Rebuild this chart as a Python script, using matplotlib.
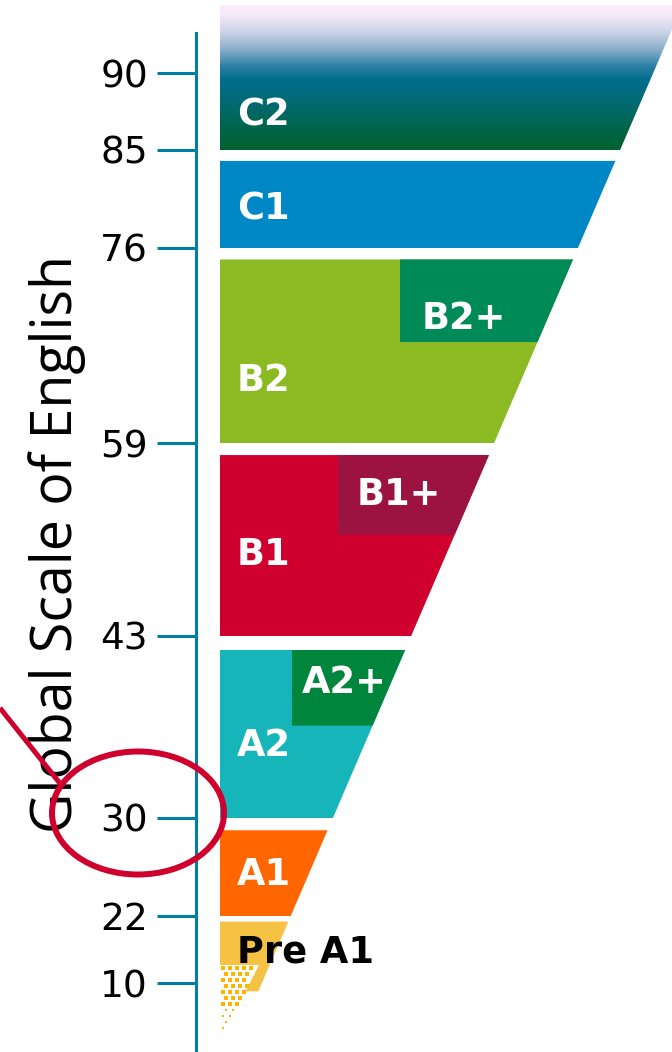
import numpy as np
import matplotlib
matplotlib.use("Agg")
import matplotlib.pyplot as plt
from matplotlib.patches import Polygon, Ellipse

# GSE values on the axis, and the pixel row where each tick sits in the picture
gse_ticks = [10, 22, 30, 43, 59, 76, 85, 90]
tick_rows = [983, 916, 818, 636, 443, 248, 150, 73]

# CEFR levels on the Global Scale of English
levels = ["C2", "C1", "B2", "B1", "A2", "A1", "Pre A1"]
level_lo = [85, 76, 59, 43, 30, 22, 8.5]
level_hi = [94.4, 84, 75, 58, 42, 29, 21]
level_colors = [None, "#0088c6", "#8cba23", "#d0002e", "#15b5ba", "#ff6600", "#f6c244"]
label_at = [86.6, 78.6, 63.5, 48.9, 34.4, 24.5, 13.6]

# "plus" sub-levels drawn in the top right of their band
plus_levels = ["B2+", "B1+", "A2+"]
plus_lo = [67.8, 51.4, 36.6]
plus_hi = [75, 58, 42]
plus_x0 = [180, 118, 72]
plus_colors = ["#008a57", "#9c1342", "#00853c"]
plus_label_at = [68.9, 53.9, 38.9]
plus_label_dx = [22, 19, 10]

W, H = 672, 1052
AX_LEFT, BAND_LEFT = 196, 220
AXIS_COLOR = "#007fa3"
RED = "#d0002e"


def interp_ext(x, xp, fp):
    # piecewise linear, carried on straight past both ends
    x = np.asarray(x, dtype=float)
    y = np.interp(x, xp, fp)
    s0 = (fp[1] - fp[0]) / (xp[1] - xp[0])
    s1 = (fp[-1] - fp[-2]) / (xp[-1] - xp[-2])
    y = np.where(x < xp[0], fp[0] + (x - xp[0]) * s0, y)
    y = np.where(x > xp[-1], fp[-1] + (x - xp[-1]) * s1, y)
    return y


def to_row(v):
    return interp_ext(v, gse_ticks, tick_rows)


def to_gse(row):
    return interp_ext(row, tick_rows[::-1], gse_ticks[::-1])


def edge_x(v):
    # right side of the funnel is a straight slanted line in the picture
    return float(673 - BAND_LEFT - 0.43 * (to_row(v) - 27))


fig = plt.figure(figsize=(W / 100, H / 100), dpi=100)
ax = fig.add_axes([AX_LEFT / W, 0, (W - AX_LEFT) / W, 1])
ax.set_yscale("function", functions=(lambda v: -to_row(v), lambda t: to_gse(-t)))


def band(x0, lo, hi, **kw):
    pts = [(x0, lo), (edge_x(lo), lo), (edge_x(hi), hi), (x0, hi)]
    p = Polygon(pts, closed=True, lw=0, **kw)
    ax.add_patch(p)
    return p


# main bands
for name, lo, hi, col in zip(levels, level_lo, level_hi, level_colors):
    if col is None:
        c2 = band(0, lo, hi, facecolor="none", zorder=1)
    else:
        band(0, lo, hi, facecolor=col, zorder=1)

# C2 gradient (pale pink at the top to dark green)
grad_rows = [5, 14, 32, 50, 66, 80, 105, 130, 148]
grad_cols = [(252, 236, 252), (246, 234, 250), (205, 212, 232), (135, 172, 200),
             (45, 128, 165), (0, 110, 142), (0, 105, 110), (0, 101, 72), (0, 98, 50)]
top_row, bot_row = float(to_row(level_hi[0])), float(to_row(level_lo[0]))
rows = np.arange(top_row, bot_row, 0.5)
img = np.stack([np.interp(rows, grad_rows, [c[i] for c in grad_cols]) for i in range(3)], axis=-1) / 255
im = ax.imshow(img[:, None, :], extent=(0, 1, 1 - bot_row / H, 1 - top_row / H),
               transform=ax.transAxes, aspect="auto", interpolation="bilinear", zorder=1)
im.set_clip_path(c2)

# plus boxes
for lo, hi, x0, col in zip(plus_lo, plus_hi, plus_x0, plus_colors):
    band(x0, lo, hi, facecolor=col, zorder=2)

# Pre A1 fades out into a dotted tip
fade_top, fade_apex = float(to_gse(965)), float(to_gse(1040))
tip = Polygon([(0, fade_top), (39, fade_top), (1, fade_apex), (0, fade_apex)],
              closed=True, facecolor="white", lw=0, zorder=2)
ax.add_patch(tip)
for i, r in enumerate(np.arange(968, 1038, 6.0)):
    frac = (r - 965) / (1040 - 965)
    xmax = 39 * (1 - frac) + 1 * frac
    xs = np.arange(2.5 + (i % 2) * 3.5, xmax - 1, 7.0)
    size = 5.0 * (1 - frac) + 1.2 * frac
    ax.scatter(xs, np.full(len(xs), float(to_gse(r))), marker="s",
               s=(size * 0.72) ** 2, color="#ffb400", lw=0, zorder=3)

# labels
for name, y in zip(levels, label_at):
    color = "black" if name == "Pre A1" else "white"
    ax.text(17, y, name, color=color, fontsize=26.5, fontweight="bold",
            family="DejaVu Sans", ha="left", va="baseline", zorder=4)
for name, y, x0, dx in zip(plus_levels, plus_label_at, plus_x0, plus_label_dx):
    ax.text(x0 + dx, y, name, color="white", fontsize=26.5, fontweight="bold",
            family="DejaVu Sans", ha="left", va="baseline", zorder=4)

# axis
ax.set_xlim(-(BAND_LEFT - AX_LEFT), W - BAND_LEFT)
ax.set_ylim(float(to_gse(H)), float(to_gse(0)))
ax.set_yticks(gse_ticks)
ax.set_yticklabels([str(t) for t in gse_ticks])
ax.tick_params(axis="y", length=28, width=2.2, color=AXIS_COLOR, labelsize=27,
               pad=6.5, labelcolor="black")
ax.minorticks_off()
ax.xaxis.set_visible(False)
for s in ["top", "right", "bottom"]:
    ax.spines[s].set_visible(False)
ax.spines["left"].set_color(AXIS_COLOR)
ax.spines["left"].set_linewidth(2.2)
ax.spines["left"].set_bounds(float(to_gse(H)), float(to_gse(33)))
ax.patch.set_alpha(0)

ax.set_ylabel("Global Scale of English", fontsize=40, family="Open Sans", color="black")
ax.yaxis.set_label_coords((86 - AX_LEFT) / (W - AX_LEFT), 1 - 544 / H)

# red highlight round the 30 tick
ov = fig.add_axes([0, 0, 1, 1], zorder=10)
ov.set_xlim(0, W)
ov.set_ylim(H, 0)
ov.axis("off")
ov.add_patch(Ellipse((138, 813), 172, 123, fill=False, edgecolor=RED, lw=4.3))
ov.plot([0, 62], [708, 786], color=RED, lw=3.6, solid_capstyle="butt")

fig.savefig("out.png", dpi=100)
